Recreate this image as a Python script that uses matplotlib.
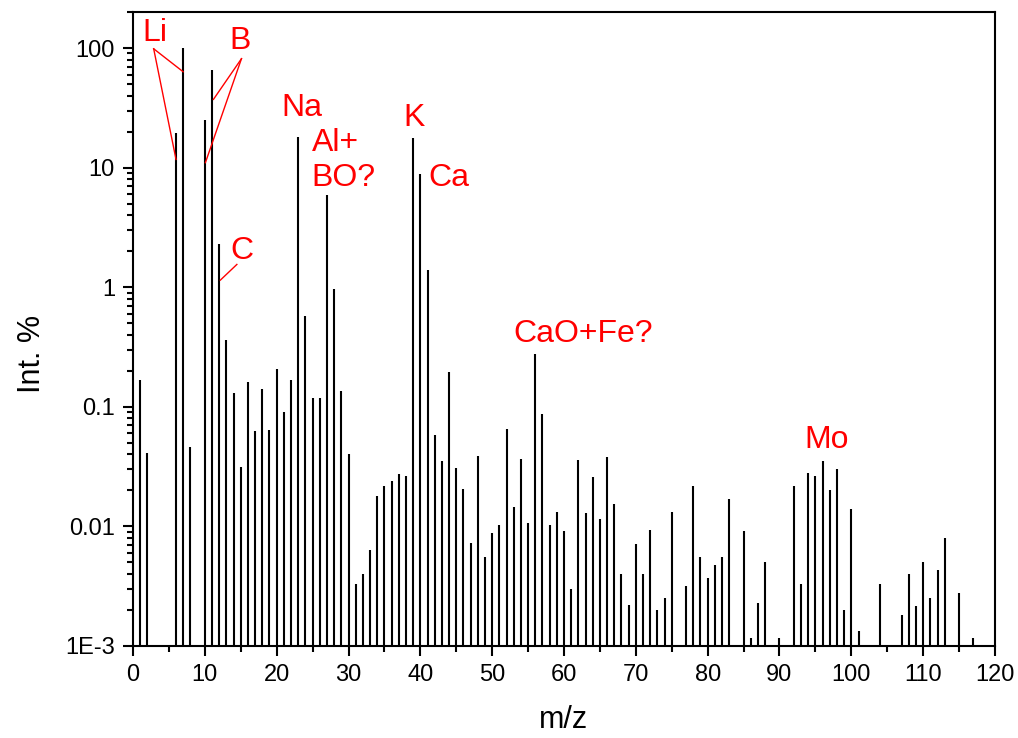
import numpy as np
import matplotlib
matplotlib.use('Agg')
import matplotlib.pyplot as plt
from matplotlib.ticker import FixedLocator, FixedFormatter, LogLocator, NullFormatter, MultipleLocator

plt.rcParams['font.family'] = ['Liberation Sans', 'DejaVu Sans']

## DATA ##
mz = [1, 2, 6, 7, 8, 10, 11, 12, 13, 14, 15, 16, 17, 18, 19, 20,
      21, 22, 23, 24, 25, 26, 27, 28, 29, 30, 31, 32, 33, 34, 35, 36,
      37, 38, 39, 40, 41, 42, 43, 44, 45, 46, 47, 48, 49, 50, 51, 52,
      53, 54, 55, 56, 57, 58, 59, 60, 61, 62, 63, 64, 65, 66, 67, 68,
      69, 70, 71, 72, 73, 74, 75, 77, 78, 79, 80, 81, 82, 83, 85, 86,
      87, 88, 90, 92, 93, 94, 95, 96, 97, 98, 99, 100, 101, 104, 107, 108,
      109, 110, 111, 112, 113, 115, 117]
intensity = [0.168, 0.041, 19.5, 100, 0.046, 25, 66, 2.3, 0.36, 0.131, 0.0316, 0.161, 0.063, 0.142, 0.064, 0.209,
             0.090, 0.166, 18.1, 0.57, 0.118, 0.118, 5.9, 0.97, 0.136, 0.040, 0.0033, 0.0040, 0.0063, 0.0179, 0.0217, 0.0238,
             0.0276, 0.0264, 17.7, 8.8, 1.38, 0.058, 0.0355, 0.194, 0.031, 0.0204, 0.0073, 0.039, 0.0055, 0.0088, 0.0102, 0.065,
             0.0146, 0.0364, 0.0106, 0.275, 0.0865, 0.0102, 0.0132, 0.0091, 0.0030, 0.036, 0.0129, 0.026, 0.0115, 0.0378, 0.0155, 0.0040,
             0.0022, 0.0071, 0.0040, 0.0093, 0.0020, 0.0025, 0.0131, 0.0032, 0.0219, 0.0056, 0.0037, 0.0048, 0.0055, 0.0168, 0.0091, 0.00116,
             0.0023, 0.0050, 0.00116, 0.0218, 0.0033, 0.028, 0.0263, 0.0355, 0.020, 0.030, 0.0020, 0.0139, 0.00133, 0.0033, 0.0018, 0.0040,
             0.00216, 0.0050, 0.0025, 0.0043, 0.0080, 0.0028, 0.00116]

ytick_vals = [1e-3, 1e-2, 1e-1, 1, 10, 100]
ytick_labels = ['1E-3', '0.01', '0.1', '1', '10', '100']

# labels: (text, x, y, ha)
labels = [('Li', 3.06, 133, 'center'),
          ('B', 14.9, 114, 'center'),
          ('C', 15.2, 2.02, 'center'),
          ('Na', 23.5, 31.6, 'center'),
          ('Al+', 24.9, 16.1, 'left'),
          ('BO?', 24.9, 8.2, 'left'),
          ('K', 39.1, 26.1, 'center'),
          ('Ca', 41.1, 8.2, 'left'),
          ('CaO+Fe?', 62.7, 0.41, 'center'),
          ('Mo', 96.5, 0.0525, 'center')]

# pointer lines: (x0, y0, x1, y1)
pointers = [(2.88, 98.5, 5.99, 11.7),
            (2.88, 98.5, 6.98, 63.3),
            (15.1, 81.4, 11.2, 37.2),
            (15.1, 81.4, 10.08, 11.0),
            (14.46, 1.55, 12.16, 1.146)]

## PLOT ##
fig = plt.figure(figsize=(10.18, 7.38), dpi=100)
ax = fig.add_axes([133/1018, 1 - 646/738, (995-133)/1018, (646-12)/738])

ax.vlines(mz, 1e-4, intensity, colors='k', linewidth=1.5)

ax.set_yscale('log')
ax.set_ylim(1e-3, 200)
ax.set_xlim(0, 120)

ax.xaxis.set_major_locator(MultipleLocator(10))
ax.xaxis.set_minor_locator(MultipleLocator(5))
ax.yaxis.set_major_locator(FixedLocator(ytick_vals))
ax.yaxis.set_major_formatter(FixedFormatter(ytick_labels))
ax.yaxis.set_minor_locator(LogLocator(base=10, subs=np.arange(2, 10)))
ax.yaxis.set_minor_formatter(NullFormatter())

ax.tick_params(which='major', direction='out', length=7, width=1.5, labelsize=17, pad=6)
ax.tick_params(which='minor', direction='out', length=4, width=1.5)
ax.tick_params(top=False, right=False, which='both')
for s in ax.spines.values():
    s.set_linewidth(1.5)

ax.set_xlabel('m/z', fontsize=22, labelpad=14)
ax.set_ylabel('Int. %', fontsize=22)
ax.yaxis.set_label_coords(-0.1, 0.46)

for txt, x, y, ha in labels:
    ax.text(x, y, txt, color='red', fontsize=23, ha=ha, va='center')
for x0, y0, x1, y1 in pointers:
    ax.plot([x0, x1], [y0, y1], color='red', linewidth=1)

fig.savefig('out.png', dpi=100)
